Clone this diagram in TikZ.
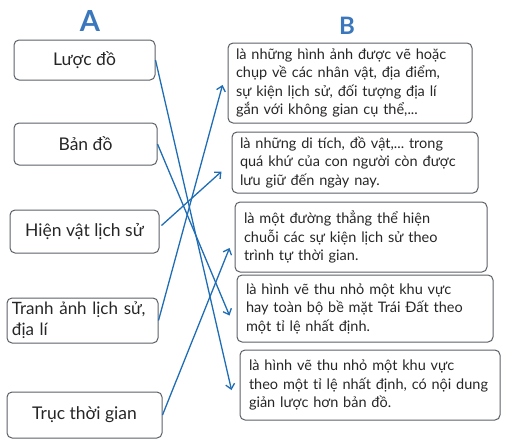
\documentclass[tikz,border=0pt]{standalone}
\usepackage{fontspec}
\setmainfont{Lato}
\usetikzlibrary{arrows.meta}
\definecolor{arrblue}{HTML}{1F6DB5}
\definecolor{boxgray}{HTML}{5A5F66}
\definecolor{letterblue}{HTML}{3A77BD}
\frenchspacing
\newcommand{\jl}[1]{\hbox to \hsize{#1}\par}
\newcommand{\jend}[1]{\hbox to \hsize{#1\hfil}\par}

\begin{document}
\begin{tikzpicture}[x=1pt,y=1pt]
	\tikzstyle{every node}+=[inner sep=0pt]
	\tikzstyle{termbox}=[draw=boxgray,line width=1pt,rounded corners=5pt,text=black!85,font=\fontsize{17.5}{21}\selectfont]
	\tikzstyle{defbox}=[draw=boxgray,line width=1pt,rounded corners=5pt,text=black!85,font=\fontsize{14.5}{18.5}\selectfont]
	\tikzstyle{match}=[arrblue,line width=1.3pt,-{Straight Barb[length=5pt,width=9pt]}]
	\tikzstyle{colhead}=[text=letterblue,font=\fontsize{29}{29}\selectfont\bfseries]
	\useasboundingbox (0,0) rectangle (518,-447);
	% column heads
	\node [colhead] (headA) at (90,-21) {A};
	\node [colhead,font=\fontsize{24}{24}\selectfont\bfseries] (headB) at (347,-26) {B};
	% column A
	\node [termbox,minimum width=141,minimum height=40] (luocdo) at (84.5,-60) {Lược đồ};
	\node [termbox,minimum width=143,minimum height=42] (bando) at (85.5,-144) {Bản đồ};
	\node [termbox,minimum width=149,minimum height=43] (hienvat) at (84.5,-231.5) {Hiện vật lịch sử};
	\node [termbox,minimum width=151,minimum height=45,text width=141,align=left,font=\fontsize{17}{21}\selectfont] (tranhanh) at (82.5,-320.5) {Tranh ảnh lịch sử,\\địa lí};
	\node [termbox,minimum width=155,minimum height=46] (truc) at (84.5,-415) {Trục thời gian};
	% column B
	\node [defbox,minimum width=244,minimum height=80,text width=228] (b1) at (350,-83) {%
		\jl{là những hình ảnh được vẽ hoặc}\jl{chụp về các nhân vật, địa điểm,}%
		\jl{sự kiện lịch sử, đối tượng địa lí}\jend{gắn với không gian cụ thể,...}};
	\node [defbox,minimum width=246,minimum height=61,text width=230] (b2) at (355,-162.5) {%
		\jl{là những di tích, đồ vật,... trong}\jl{quá khứ của con người còn được}%
		\jend{lưu giữ đến ngày nay.}};
	\node [defbox,minimum width=252,minimum height=70,text width=234] (b3) at (361,-237) {%
		\jl{là một đường thẳng thể hiện}\jl{chuỗi các sự kiện lịch sử theo}%
		\jend{trình tự thời gian.}};
	\node [defbox,minimum width=256,minimum height=67,text width=238] (b4) at (365,-308.5) {%
		\jl{là hình vẽ thu nhỏ một khu vực}\jl{hay toàn bộ bề mặt Trái Đất theo}%
		\jend{một tỉ lệ nhất định.}};
	\node [defbox,minimum width=260,minimum height=70,text width=242] (b5) at (370,-385) {%
		\jl{là hình vẽ thu nhỏ một khu vực}\jl{theo một tỉ lệ nhất định, có nội dung}%
		\jend{giản lược hơn bản đồ.}};
	% matching arrows
	\draw [match] (luocdo.east) -- ([shift={(-8,-5)}]b5.west);
	\draw [match] (bando.east) -- ([shift={(-7,-7)}]b4.west);
	\draw [match] ([shift={(2,6)}]hienvat.east) -- ([shift={(-10,-9)}]b2.west);
	\draw [match] (tranhanh.east) -- ([shift={(-5,-2)}]b1.west);
	\draw [match] (truc.east) -- ([shift={(-5,-11)}]b3.west);
\end{tikzpicture}
\end{document}
